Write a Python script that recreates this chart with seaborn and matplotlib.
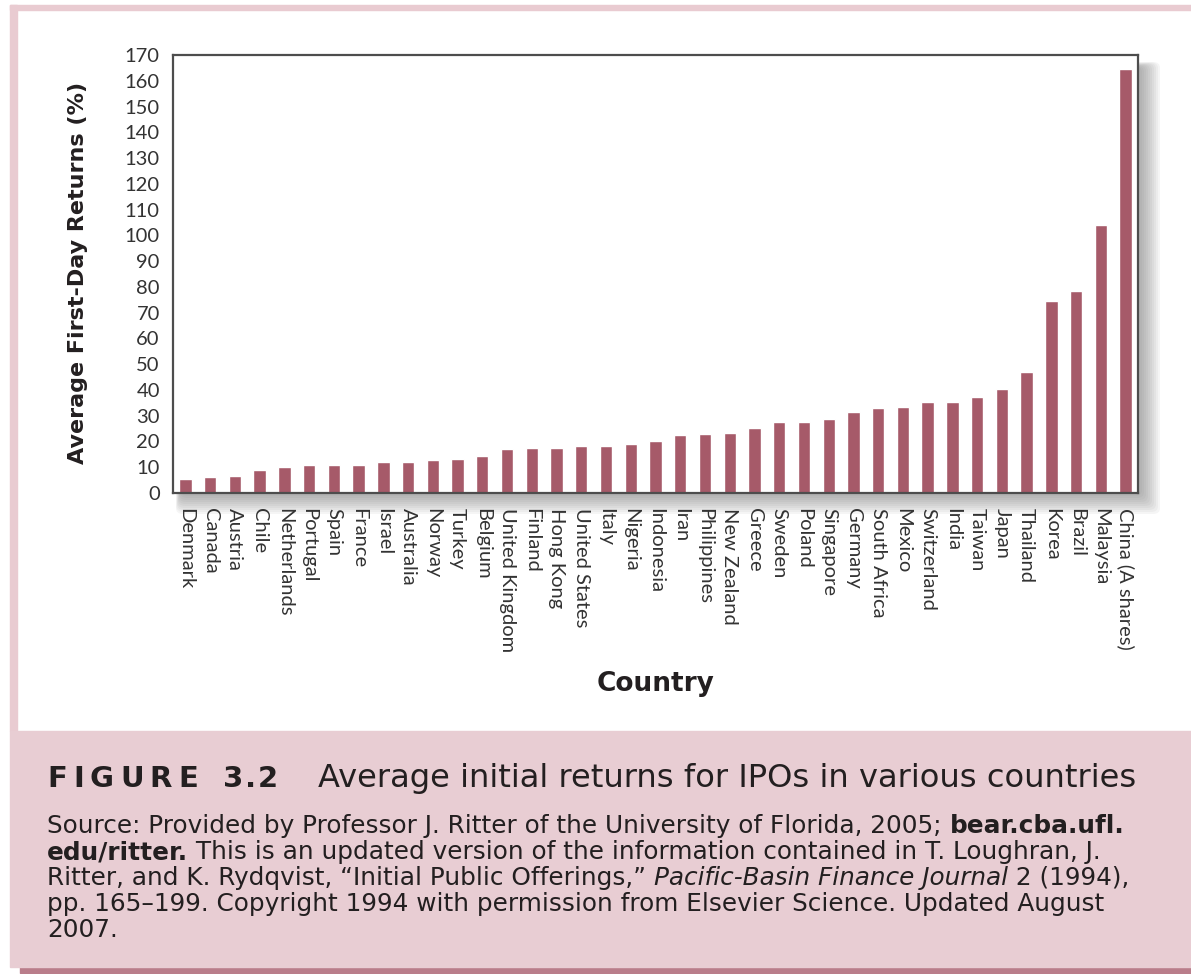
import matplotlib
matplotlib.use("Agg")
import matplotlib.pyplot as plt
import seaborn as sns
import pandas as pd
from matplotlib.patches import Rectangle, FancyBboxPatch

countries = ["Denmark", "Canada", "Austria", "Chile", "Netherlands", "Portugal",
             "Spain", "France", "Israel", "Australia", "Norway", "Turkey",
             "Belgium", "United Kingdom", "Finland", "Hong Kong", "United States",
             "Italy", "Nigeria", "Indonesia", "Iran", "Philippines", "New Zealand",
             "Greece", "Sweden", "Poland", "Singapore", "Germany", "South Africa",
             "Mexico", "Switzerland", "India", "Taiwan", "Japan", "Thailand",
             "Korea", "Brazil", "Malaysia", "China (A shares)"]
returns = [5.4, 6.3, 6.7, 8.9, 10.2, 10.7, 10.7, 10.7, 12.2, 12.2, 12.7, 13.2,
           14.2, 17.1, 17.4, 17.4, 18.1, 18.2, 19.1, 20.3, 22.5, 22.9, 23.2,
           25.3, 27.4, 27.5, 28.6, 31.3, 32.8, 33.2, 35.2, 35.4, 37.4, 40.2, 47.0,
           74.4, 78.5, 104.1, 164.7]
y_ticks = list(range(0, 171, 10))

fig_label = "FIGURE"
fig_number = "3.2"
fig_title = "Average initial returns for IPOs in various countries"
source_lines = [
    [("Source: Provided by Professor J. Ritter of the University of Florida, 2005; ", "normal", "normal"),
     ("bear.cba.ufl.", "bold", "normal")],
    [("edu/ritter.", "bold", "normal"),
     (" This is an updated version of the information contained in T. Loughran, J.", "normal", "normal")],
    [("Ritter, and K. Rydqvist, \u201cInitial Public Offerings,\u201d ", "normal", "normal"),
     ("Pacific-Basin Finance Journal", "normal", "italic"),
     (" 2 (1994),", "normal", "normal")],
    [("pp. 165\u2013199. Copyright 1994 with permission from Elsevier Science. Updated August", "normal", "normal")],
    [("2007.", "normal", "normal")],
]

sns.set_style("white")
plt.rcParams["font.family"] = ["Lato", "DejaVu Sans"]
cap_font = ["DejaVu Sans"]

W, H = 1191, 974
fig = plt.figure(figsize=(W / 100, H / 100), dpi=100)
fig.patch.set_facecolor("white")


def px(x, y):
    return x / W, 1 - y / H


# page decoration: pink border lines and caption box
pink_line = "#e9cbd1"
cap_pink = "#e8cdd3"
fig.add_artist(Rectangle(px(10, 10), (W - 10) / W, 5 / H, transform=fig.transFigure,
                         color=pink_line, zorder=-5))
fig.add_artist(Rectangle(px(10, 731), 7 / W, 726 / H, transform=fig.transFigure,
                         color=pink_line, zorder=-5))
fig.add_artist(Rectangle(px(20, 973), (W - 20) / W, 7 / H, transform=fig.transFigure,
                         color="#b97d8a", zorder=-5))
fig.add_artist(Rectangle(px(10, 967), (W - 10) / W, 236 / H, transform=fig.transFigure,
                         color=cap_pink, zorder=-4))

# axes drop shadow
for i in range(10):
    x0, y0 = 176 + i * 0.5, 62 + i * 0.5
    x1, y1 = 1160 - i * 2.0, 514 - i * 2.0
    fig.add_artist(FancyBboxPatch(px(x0, y1), (x1 - x0) / W, (y1 - y0) / H,
                                  boxstyle="round,pad=0,rounding_size=0.006",
                                  transform=fig.transFigure, color="#6f6f6f",
                                  alpha=0.065, lw=0, zorder=-3))

ax = fig.add_axes([173 / W, 1 - 493 / H, (1138 - 173) / W, (493 - 55) / H])
ax.set_facecolor("white")

df = pd.DataFrame({"Country": countries, "Return": returns})
sns.barplot(data=df, x="Country", y="Return", color="#a65a69", saturation=1,
            width=0.5, ax=ax)

ax.set_xlim(-0.5, len(countries) - 0.5)
ax.set_ylim(0, 170)
ax.set_yticks(y_ticks)
ax.set_yticklabels([str(v) for v in y_ticks])
ax.set_xticks(range(len(countries)))
ax.set_xticklabels(countries, rotation=-90, ha="center", va="top")
ax.set_xticks([i + 0.5 for i in range(len(countries) - 1)], minor=True)

spine_c = "#4d4d4d"
for s in ax.spines.values():
    s.set_visible(True)
    s.set_color(spine_c)
    s.set_linewidth(1.6)

ax.tick_params(axis="y", which="major", direction="inout", length=11, width=1.3,
               color=spine_c, labelsize=14.5, labelcolor="#333333", pad=4)
ax.tick_params(axis="x", which="major", length=0, labelsize=14.5,
               labelcolor="#333333", pad=11)
ax.tick_params(axis="x", which="minor", direction="inout", length=11, width=1.3,
               color=spine_c)

ax.set_ylabel("Average First-Day Returns (%)", fontsize=16, fontweight="bold",
              family=cap_font, color="#231f20", va="center")
ax.yaxis.set_label_coords((78 - 173) / (1138 - 173), (493 - 273) / (493 - 55))
ax.set_xlabel("Country", fontsize=19, fontweight="bold", family=cap_font,
              color="#231f20", va="center")
ax.xaxis.set_label_coords((656 - 173) / (1138 - 173), (493 - 684) / (493 - 55))

renderer = fig.canvas.get_renderer()


def put(x, y, text, size, weight="normal", style="normal"):
    return fig.text(*px(x, y), text, fontsize=size, fontweight=weight,
                    fontstyle=style, family=cap_font, color="#231f20",
                    ha="left", va="baseline")


def run(x, y, pieces, size):
    # place mixed-style pieces one after another along a baseline (pixels)
    for text, weight, style in pieces:
        t = put(x, y, text, size, weight, style)
        x = t.get_window_extent(renderer).x1
    return x


def spread(x0, x1, y, text, size):
    # letter-spaced heading spanning x0..x1
    arts = [put(x0, y, c, size, "bold") for c in text]
    widths = [a.get_window_extent(renderer).width for a in arts]
    gap = (x1 - x0 - sum(widths)) / (len(text) - 1)
    x = x0
    for a, w in zip(arts, widths):
        a.set_position(px(x, y))
        x += w + gap


def fit_size(pieces, width, probe=10.0):
    # font size that makes a line span the given pixel width
    x_end = run(-2000, -200, pieces, probe)
    for t in fig.texts[-len(pieces):]:
        t.remove()
    return probe * width / (x_end + 2000)


spread(47, 198, 787, fig_label, 21)
spread(223, 278, 787, fig_number, 21)
title_size = fit_size([(fig_title, "normal", "normal")], 1137 - 318)
run(318, 787, [(fig_title, "normal", "normal")], title_size)

src_size = fit_size(source_lines[0], 1122 - 47)
for k, line in enumerate(source_lines):
    run(47, 833 + 26 * k, line, src_size)

fig.savefig("out.png", dpi=100, facecolor="white")
